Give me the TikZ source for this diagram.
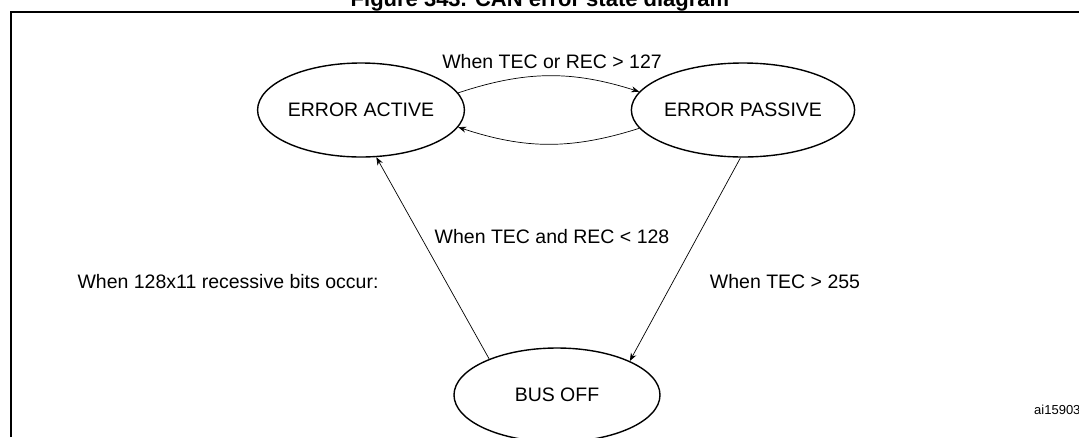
\documentclass[tikz,border=0pt]{standalone}
\usepackage{fontspec}
\setmainfont{Liberation Sans}
\usetikzlibrary{arrows.meta,shapes.geometric}
\begin{document}
\begin{tikzpicture}[x=1pt,y=-1pt,font=\fontsize{19.5}{22}\selectfont]
 	\tikzset{state/.style={ellipse, draw=black, line width=1.4pt, minimum width=206pt, minimum height=94pt, inner sep=0pt},
 	connect/.style={-{Stealth[length=8pt,width=6pt]}, line width=0.7pt},
 	lbl/.style={inner sep=0pt}}
 	\useasboundingbox (0,0) rectangle (1079,437);
 	\draw[line width=1.2pt] (11,437) -- (11,12) -- (1085,12);
 	\node[lbl, font=\bfseries\fontsize{22}{24}\selectfont] (title) at (540,1) {Figure 343. CAN error state diagram};
 	\node[state] (active) at (361,110) {ERROR ACTIVE};
 	\node[state] (passive) at (743,110) {ERROR PASSIVE};
 	\node[state] (busoff) at (557,395) {BUS OFF};
 	\draw[connect] (active.10) to[bend left=18] (passive.170);
 	\draw[connect] (passive.-170) to[bend left=18] (active.-10);
 	\draw[connect] (passive.-93) -- (busoff.25);
 	\draw[connect] (busoff.152) -- (active.-72);
 	\node[lbl] (l1) at (552,62) {When TEC or REC > 127};
 	\node[lbl] (l2) at (552,237) {When TEC and REC < 128};
 	\node[lbl] (l3) at (228,282) {When 128x11 recessive bits occur:};
 	\node[lbl] (l4) at (785,282) {When TEC > 255};
 	\node[lbl, anchor=west, font=\fontsize{13}{15}\selectfont] (id) at (1034,410) {ai15903};
\end{tikzpicture}
\end{document}
